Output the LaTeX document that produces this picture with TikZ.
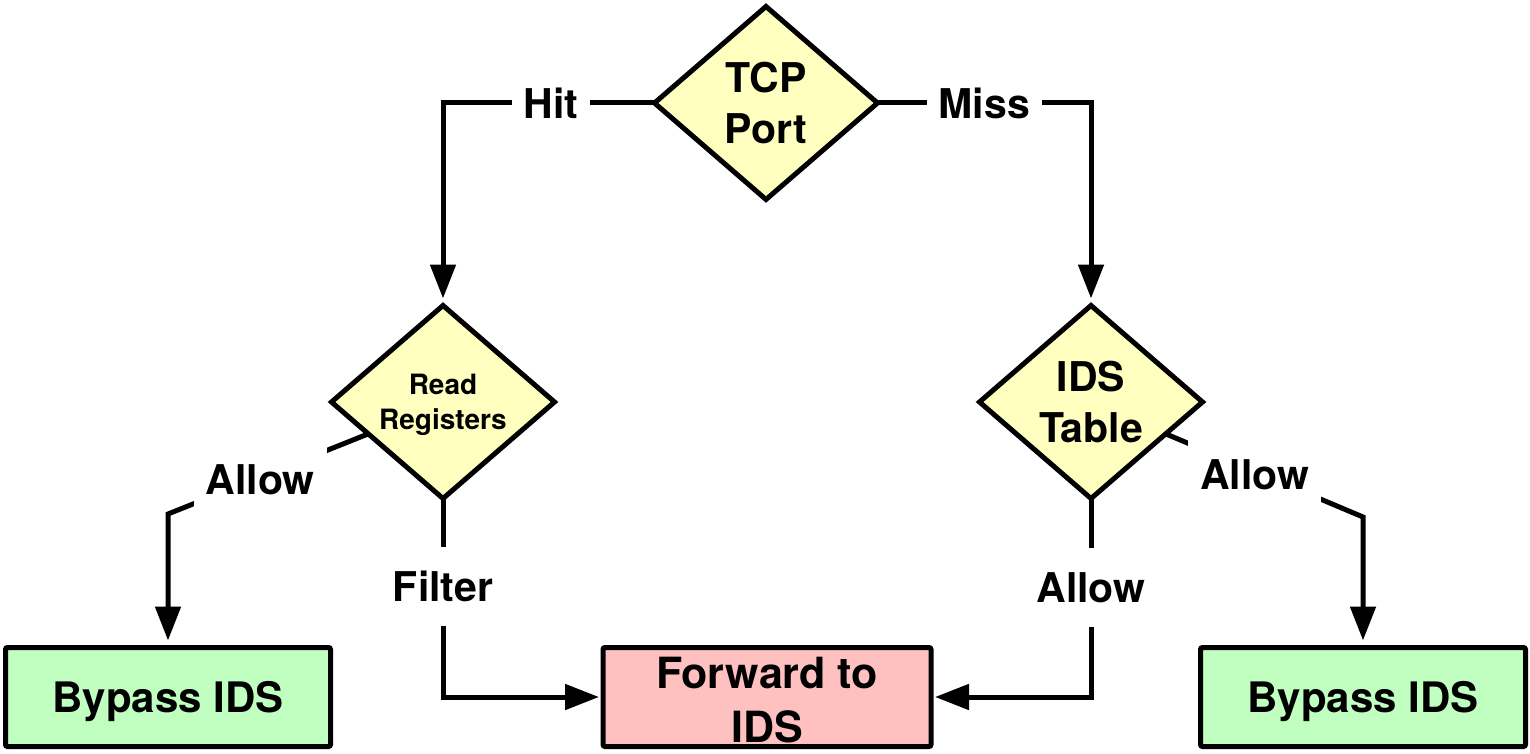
\documentclass[tikz,border=0pt]{standalone}
\usepackage{fontspec}
\setmainfont{TeX Gyre Heros}
\usetikzlibrary{shapes.geometric,arrows.meta,calc}
\definecolor{decfill}{RGB}{255,255,192}
\definecolor{passfill}{RGB}{192,255,192}
\definecolor{fwdfill}{RGB}{255,192,192}
\begin{document}
\begin{tikzpicture}[x=1pt,y=-1pt,
  decision/.style={diamond, draw, line width=5pt, fill=decfill, inner sep=0pt,
    outer sep=0pt, minimum width=223pt, minimum height=193pt, align=center,
    font=\bfseries\fontsize{41}{51}\selectfont},
  action/.style={rectangle, draw, line width=5pt, rounded corners=2pt,
    inner sep=0pt, outer sep=0pt, minimum width=325pt, minimum height=99pt,
    align=center, text depth=0pt, font=\bfseries\fontsize{42}{54}\selectfont},
  flow/.style={line width=5pt, -{Triangle[length=34pt,width=25pt]}, shorten >=7pt},
  lab/.style={fill=white, inner xsep=12pt, inner ysep=24pt,
    font=\bfseries\fontsize{41}{51}\selectfont}
]
\useasboundingbox (0,0) rectangle (1530,754);

% decisions
\node[decision] (tcp) at (766,103) {TCP\\Port};
\node[decision, font=\bfseries\fontsize{28}{35}\selectfont] (rr) at (443,402) {Read\\\smash{Registers}};
\node[decision] (ids) at (1091,402) {IDS\\Table};

% outcomes
\node[action, fill=passfill] (bypl) at (168,697) {Bypass IDS};
\node[action, fill=fwdfill, minimum width=328pt, font=\bfseries\fontsize{43}{54}\selectfont] (fwd) at (767,697) {\rule{0pt}{36pt}Forward to\\IDS};
\node[action, fill=passfill] (bypr) at (1363,697) {Bypass IDS};

% bend points of the side branches
\coordinate (rrout) at ($(rr.west)!0.33!(rr.south)$);
\coordinate (lbend) at (168,514);
\coordinate (idsout) at ($(ids.east)!0.33!(ids.south)$);
\coordinate (rbend) at (1363,517);

% connectors
\draw[flow] (tcp.west) -| node[lab, pos=0.245] (hit) {Hit} (rr.north);
\draw[flow] (tcp.east) -| node[lab, pos=0.25] (miss) {Miss} (ids.north);

\draw[flow] (rrout) -- node[lab, pos=0.54, yshift=-3pt] (allowl) {Allow} (lbend) -- (bypl.north);
\draw[flow, shorten >=4pt] (rr.south) |- node[lab, pos=0.222] (filter) {Filter} (fwd.west);

\draw[flow, shorten >=4pt] (ids.south) |- node[lab, pos=0.224] (allowm) {Allow} (fwd.east);
\draw[flow] (idsout) -- node[lab, pos=0.45, yshift=-3pt] (allowr) {Allow} (rbend) -- (bypr.north);
\end{tikzpicture}
\end{document}
